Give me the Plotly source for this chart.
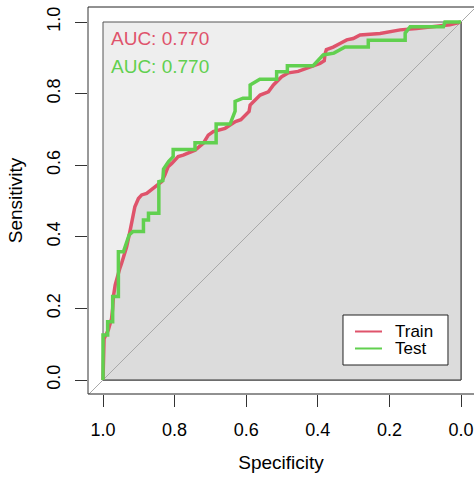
import plotly.graph_objects as go

# ROC curve points (specificity, sensitivity)
train_spec = [1.000, 0.999, 0.997, 0.985, 0.980, 0.976, 0.973, 0.971, 0.966, 0.960,
              0.953, 0.948, 0.943, 0.934, 0.925, 0.920, 0.915, 0.911, 0.901, 0.892,
              0.878, 0.864, 0.846, 0.836, 0.827, 0.818, 0.808, 0.799, 0.790, 0.776,
              0.762, 0.743, 0.720, 0.706, 0.692, 0.678, 0.659, 0.645, 0.630, 0.615,
              0.600, 0.592, 0.589, 0.575, 0.561, 0.538, 0.524, 0.501, 0.482, 0.455,
              0.431, 0.413, 0.394, 0.382, 0.380, 0.376, 0.357, 0.338, 0.319, 0.301,
              0.282, 0.226, 0.170, 0.124, 0.068, 0.031, 0.000]
train_sens = [0.000, 0.060, 0.115, 0.140, 0.154, 0.172, 0.200, 0.233, 0.265, 0.289,
              0.312, 0.326, 0.344, 0.372, 0.414, 0.438, 0.466, 0.484, 0.507, 0.517,
              0.521, 0.531, 0.545, 0.554, 0.573, 0.596, 0.605, 0.615, 0.624, 0.628,
              0.633, 0.642, 0.661, 0.684, 0.694, 0.698, 0.703, 0.712, 0.722, 0.727,
              0.740, 0.750, 0.768, 0.782, 0.796, 0.805, 0.824, 0.847, 0.858, 0.862,
              0.870, 0.877, 0.884, 0.892, 0.910, 0.923, 0.930, 0.940, 0.950, 0.954,
              0.964, 0.968, 0.978, 0.982, 0.987, 0.992, 1.000]

test_spec = [1.000, 1.000, 0.987, 0.987, 0.973, 0.973, 0.957, 0.957, 0.943, 0.927,
             0.916, 0.887, 0.887, 0.873, 0.873, 0.844, 0.844, 0.833, 0.831, 0.817,
             0.804, 0.804, 0.743, 0.743, 0.684, 0.684, 0.645, 0.631, 0.631, 0.609,
             0.589, 0.589, 0.562, 0.515, 0.515, 0.485, 0.485, 0.413, 0.385, 0.355,
             0.324, 0.259, 0.259, 0.156, 0.156, 0.142, 0.049, 0.045, 0.000]
test_sens = [0.000, 0.126, 0.126, 0.163, 0.163, 0.233, 0.233, 0.358, 0.358, 0.405,
             0.415, 0.415, 0.447, 0.447, 0.466, 0.466, 0.554, 0.557, 0.589, 0.610,
             0.624, 0.644, 0.644, 0.663, 0.663, 0.715, 0.715, 0.751, 0.778, 0.787,
             0.787, 0.824, 0.840, 0.840, 0.861, 0.861, 0.878, 0.878, 0.908, 0.913,
             0.930, 0.930, 0.949, 0.949, 0.969, 0.987, 0.987, 1.000, 1.000]

series_names = ["Train", "Test"]
auc_labels = ["AUC: 0.770", "AUC: 0.770"]
tick_vals = [1.0, 0.8, 0.6, 0.4, 0.2, 0.0]
tick_text = ["1.0", "0.8", "0.6", "0.4", "0.2", "0.0"]

RED = "#DF536B"
GREEN = "#61D04F"
FONT = "Liberation Sans, Arial, sans-serif"

fig = go.Figure()

# area under the training curve
fig.add_trace(go.Scatter(
    x=train_spec + [0.0, 1.0], y=train_sens + [0.0, 0.0],
    mode="lines", fill="toself", fillcolor="#DCDCDC",
    line=dict(color="#333333", width=1), hoverinfo="skip", showlegend=False))

# chance diagonal
fig.add_trace(go.Scatter(
    x=[1.2, -0.2], y=[-0.2, 1.2], mode="lines",
    line=dict(color="#A9A9A9", width=1), hoverinfo="skip", showlegend=False))

fig.add_trace(go.Scatter(x=train_spec, y=train_sens, mode="lines", name=series_names[0],
                         line=dict(color=RED, width=3.5), showlegend=False))
fig.add_trace(go.Scatter(x=test_spec, y=test_sens, mode="lines", name=series_names[1],
                         line=dict(color=GREEN, width=3.5), showlegend=False))

shapes = [
    # maximal AUC square
    dict(type="rect", xref="x", yref="y", x0=0, x1=1, y0=0, y1=1,
         fillcolor="#EEEEEE", line=dict(color="#555555", width=1), layer="below"),
    # plot frame (left, top, bottom)
    dict(type="line", xref="paper", yref="paper", x0=0, x1=0, y0=0, y1=1,
         line=dict(color="#333333", width=1)),
    dict(type="line", xref="paper", yref="paper", x0=0, x1=1.01, y0=1, y1=1,
         line=dict(color="#222222", width=1)),
    dict(type="line", xref="paper", yref="paper", x0=0, x1=1.01, y0=0, y1=0,
         line=dict(color="#222222", width=1)),
    # legend box
    dict(type="rect", xref="paper", yref="paper", x0=0.6606, x1=0.9326, y0=0.0749, y1=0.2041,
         fillcolor="white", line=dict(color="#222222", width=1)),
    dict(type="line", xref="paper", yref="paper", x0=0.6917, x1=0.7617, y0=0.1615, y1=0.1615,
         line=dict(color=RED, width=2)),
    dict(type="line", xref="paper", yref="paper", x0=0.6917, x1=0.7617, y0=0.1176, y1=0.1176,
         line=dict(color=GREEN, width=2)),
]

annotations = [
    dict(text=auc_labels[0], x=0.982, y=0.954, xref="x", yref="y", xanchor="left",
         yanchor="middle", showarrow=False, font=dict(family=FONT, size=19, color=RED)),
    dict(text=auc_labels[1], x=0.982, y=0.877, xref="x", yref="y", xanchor="left",
         yanchor="middle", showarrow=False, font=dict(family=FONT, size=19, color=GREEN)),
    dict(text=series_names[0], x=0.7902, y=0.1615, xref="paper", yref="paper", xanchor="left",
         yanchor="middle", showarrow=False, font=dict(family=FONT, size=17, color="black")),
    dict(text=series_names[1], x=0.7902, y=0.1176, xref="paper", yref="paper", xanchor="left",
         yanchor="middle", showarrow=False, font=dict(family=FONT, size=17, color="black")),
]

fig.update_layout(
    width=474, height=477,
    margin=dict(l=88, r=0, t=7, b=83),
    paper_bgcolor="white", plot_bgcolor="white",
    font=dict(family=FONT, size=18, color="black"),
    shapes=shapes, annotations=annotations,
    xaxis=dict(range=[1.0419, -0.0363], tickvals=tick_vals, ticktext=tick_text,
               ticks="outside", ticklen=12, tickwidth=1, tickcolor="#333333",
               ticklabelstandoff=7,
               showgrid=False, zeroline=False, showline=False,
               tickfont=dict(family=FONT, size=18, color="black"),
               title=dict(text="Specificity", font=dict(family=FONT, size=19, color="black"),
                          standoff=17)),
    yaxis=dict(range=[-0.0391, 1.0419], tickvals=tick_vals, ticktext=tick_text,
               ticks="outside", ticklen=12, tickwidth=1, tickcolor="#333333",
               ticklabelstandoff=8,
               showgrid=False, zeroline=False, showline=False, tickangle=-90,
               tickfont=dict(family=FONT, size=18, color="black"),
               title=dict(text="Sensitivity", font=dict(family=FONT, size=19, color="black"),
                          standoff=16)),
)

fig.write_html("out.html")
